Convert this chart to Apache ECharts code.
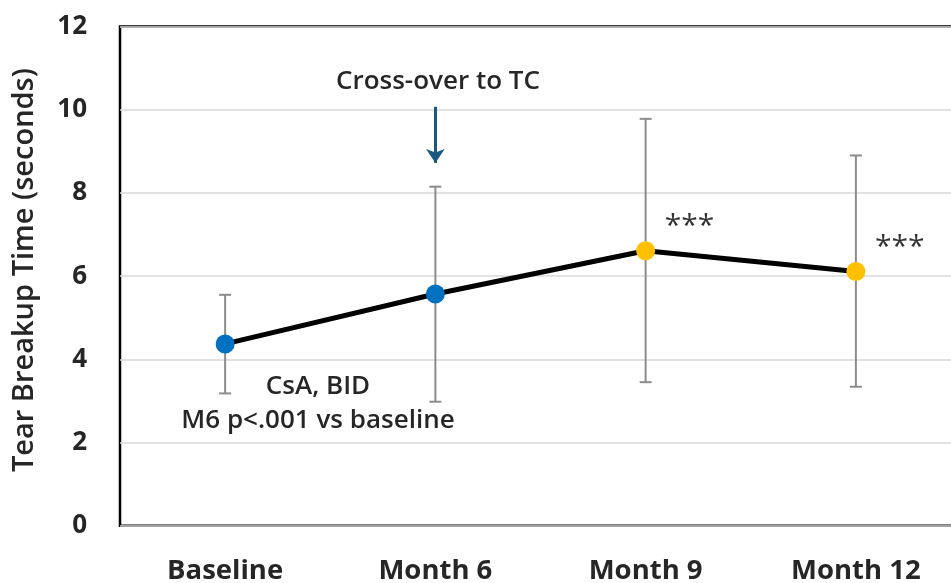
<!DOCTYPE html>
<html>
<head>
<meta charset="utf-8">
<script src="https://cdn.jsdelivr.net/npm/echarts@6/dist/echarts.min.js"></script>
<style>
  html, body { margin: 0; padding: 0; background: #fff; }
  #container { width: 951px; height: 583px; }
</style>
</head>
<body>
<div id="container"></div>
<script>
var dom = document.getElementById('container');
var myChart = echarts.init(dom, null, { renderer: 'canvas' });

// data
const visits = ['Baseline', 'Month 6', 'Month 9', 'Month 12'];
const meanTBUT = [4.37, 5.57, 6.61, 6.11];
const upperTBUT = [5.55, 8.15, 9.78, 8.9];
const lowerTBUT = [3.18, 2.98, 3.45, 3.34];
const pointColors = ['#0070C0', '#0070C0', '#FFC000', '#FFC000'];
const sigMarks = ['', '', '***', '***'];

const fontMain = '"Open Sans", "Noto Sans", sans-serif';
const textColor = '#262626';

var errData = visits.map((v, i) => [i, lowerTBUT[i], upperTBUT[i]]);

function note(text, x, y, size) {
  return {
    type: 'text', x: x, y: y,
    style: {
      text: text, fontSize: size, fontWeight: 600, fill: textColor, fontFamily: fontMain,
      align: 'center', verticalAlign: 'middle'
    }
  };
}

var option = {
  animation: false,
  grid: {
    left: 120, top: 26.5, width: 841, height: 499.2,
    containLabel: false,
    outerBoundsMode: 'none',
    show: true, borderColor: '#000', borderWidth: 2.5, backgroundColor: 'transparent'
  },
  xAxis: {
    type: 'category',
    data: visits,
    boundaryGap: true,
    axisLine: { show: false },
    axisTick: { show: false },
    axisLabel: {
      margin: 31, fontSize: 27.5, fontWeight: 'bold', color: textColor, fontFamily: fontMain
    }
  },
  yAxis: {
    type: 'value',
    min: 0, max: 12, interval: 2,
    name: 'Tear Breakup Time (seconds)',
    nameLocation: 'middle',
    nameGap: 81,
    nameTextStyle: {
      fontSize: 29, color: textColor, fontFamily: fontMain, fontWeight: 600,
      padding: [0, 0, 0, 12]
    },
    axisLine: { show: false },
    axisTick: { show: false },
    axisLabel: {
      margin: 33, fontSize: 26, fontWeight: 'bold', color: textColor, fontFamily: fontMain
    },
    splitLine: { lineStyle: { color: '#d9d9d9', width: 1.5 } }
  },
  series: [
    {
      name: 'errorBars',
      type: 'custom',
      z: 2,
      data: errData,
      renderItem: function (params, api) {
        var x = api.value(0);
        var lo = api.coord([x, api.value(1)]);
        var hi = api.coord([x, api.value(2)]);
        var cap = 6;
        var style = { stroke: '#8c8c8c', lineWidth: 2 };
        return {
          type: 'group',
          children: [
            { type: 'line', shape: { x1: lo[0], y1: lo[1], x2: hi[0], y2: hi[1] }, style: style },
            { type: 'line', shape: { x1: lo[0] - cap, y1: lo[1], x2: lo[0] + cap, y2: lo[1] }, style: style },
            { type: 'line', shape: { x1: hi[0] - cap, y1: hi[1], x2: hi[0] + cap, y2: hi[1] }, style: style }
          ]
        };
      }
    },
    {
      name: 'TBUT',
      type: 'line',
      z: 3,
      data: meanTBUT.map((v, i) => ({ value: v, itemStyle: { color: pointColors[i] } })),
      symbol: 'circle',
      symbolSize: 19,
      lineStyle: { color: '#000', width: 5 },
      itemStyle: { borderWidth: 0 },
      markLine: {
        silent: true,
        symbol: ['none', 'arrow'],
        symbolSize: [14, 14],
        lineStyle: { color: '#1a5a80', width: 3, type: 'solid' },
        label: { show: false },
        data: [[{ coord: ['Month 6', 10.07] }, { coord: ['Month 6', 8.72] }]]
      }
    },
    {
      name: 'significance',
      type: 'scatter',
      z: 4,
      symbolSize: 0,
      data: meanTBUT.map((v, i) => ({ value: [i, v], mark: sigMarks[i] })),
      label: {
        show: true,
        position: 'right',
        offset: [14, -24],
        fontSize: 30,
        color: '#000',
        fontFamily: fontMain,
        formatter: p => p.data.mark
      }
    }
  ],
  graphic: [
    note('Cross-over to TC', 438, 82, 26),
    note('CsA, BID', 318, 387, 26),
    note('M6 p<.001 vs baseline', 318, 421, 26)
  ]
};

myChart.setOption(option);
window.addEventListener('resize', myChart.resize);
</script>
</body>
</html>
